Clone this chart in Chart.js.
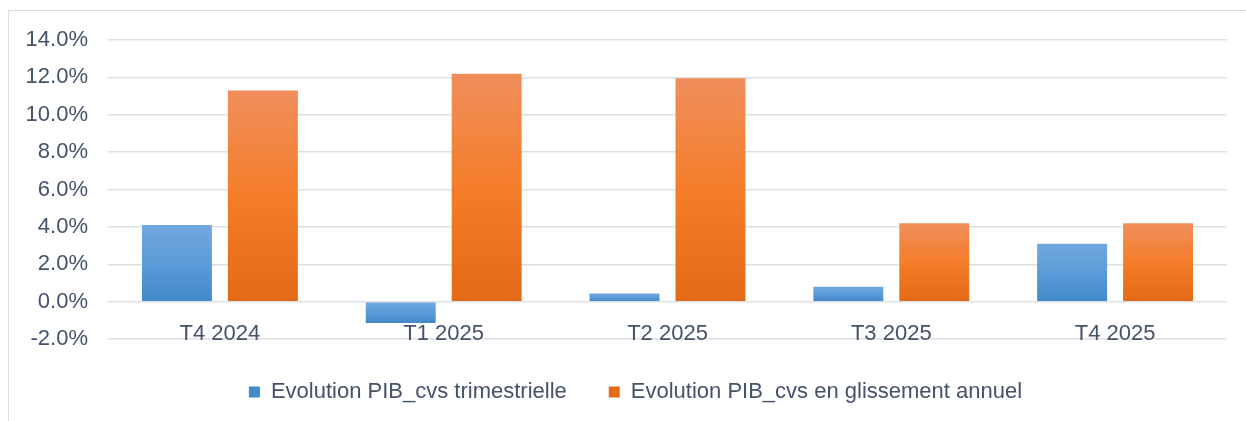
<!DOCTYPE html>
<html>
<head>
<meta charset="utf-8">
<script src="https://cdn.jsdelivr.net/npm/chart.js@4"></script>
<style>
  body { margin: 0; background: #fff; overflow: hidden; }
  #frame { position: absolute; left: 8px; top: 10px; width: 1400px; height: 600px;
           border-top: 1px solid #dadde2; border-left: 1px solid #dadde2; }
  #wrap { position: absolute; left: 0; top: 0; width: 1246px; height: 421px; }
</style>
</head>
<body>
<div id="frame"></div>
<div id="wrap"><canvas id="pibChart"></canvas></div>
<script>
var categories = ['T4 2024', 'T1 2025', 'T2 2025', 'T3 2025', 'T4 2025'];
var seriesNames = ['Evolution PIB_cvs trimestrielle', 'Evolution PIB_cvs en glissement annuel'];
var quarterly = [4.1, -1.15, 0.43, 0.8, 3.1];
var yearly = [11.3, 12.2, 11.95, 4.2, 4.2];

var blueStops = ['#72a8de', '#5b9bd8', '#4288ca'];
var orangeStops = ['#f08e5c', '#f47d2a', '#e36a17'];

// one vertical gradient per bar, from its top edge to its bottom edge
function barGradient(stops) {
    return function (context) {
        var chart = context.chart;
        if (!chart.chartArea || context.type !== 'data') return stops[1];
        var y = chart.scales.y;
        var a = y.getPixelForValue(context.raw);
        var b = y.getPixelForValue(0);
        var g = chart.ctx.createLinearGradient(0, Math.min(a, b), 0, Math.max(a, b));
        g.addColorStop(0, stops[0]);
        g.addColorStop(0.5, stops[1]);
        g.addColorStop(1, stops[2]);
        return g;
    };
}

var textColor = '#44526a';
var font = { family: "'Liberation Sans', Arial, sans-serif", size: 22 };

var ctx = document.getElementById('pibChart').getContext('2d');
var pibChart = new Chart(ctx, {
    type: 'bar',
    data: {
        labels: categories,
        datasets: [{
            label: seriesNames[0],
            data: quarterly,
            backgroundColor: barGradient(blueStops),
            borderWidth: 0
        }, {
            label: seriesNames[1],
            data: yearly,
            backgroundColor: barGradient(orangeStops),
            borderWidth: 0
        }]
    },
    options: {
        responsive: true,
        maintainAspectRatio: false,
        animation: false,
        categoryPercentage: 0.768,
        barPercentage: 0.814,
        layout: { padding: { left: 25, right: 0, top: 40, bottom: 8 } },
        scales: {
            x: {
                position: { y: 0 },
                grid: { display: false },
                border: { display: false },
                ticks: { color: textColor, font: font, padding: 11, maxRotation: 0 }
            },
            y: {
                min: -2,
                max: 14,
                afterFit: function (scale) { scale.width = 83; },
                grid: { color: '#dcdfe4', lineWidth: 1.5, drawTicks: false },
                border: { display: false },
                ticks: {
                    stepSize: 2,
                    padding: 20,
                    color: textColor,
                    font: font,
                    callback: function (v) { return v.toFixed(1) + '%'; }
                }
            },
            // empty right margin so the legend centres like the original
            yRight: {
                position: 'right',
                grid: { display: false },
                border: { display: false },
                ticks: { display: false },
                afterFit: function (scale) { scale.width = 19; }
            }
        },
        plugins: {
            legend: {
                position: 'bottom',
                labels: { color: textColor, font: font, boxWidth: 11, boxHeight: 11, padding: 42 }
            },
            tooltip: { enabled: false }
        }
    }
});
</script>
</body>
</html>
